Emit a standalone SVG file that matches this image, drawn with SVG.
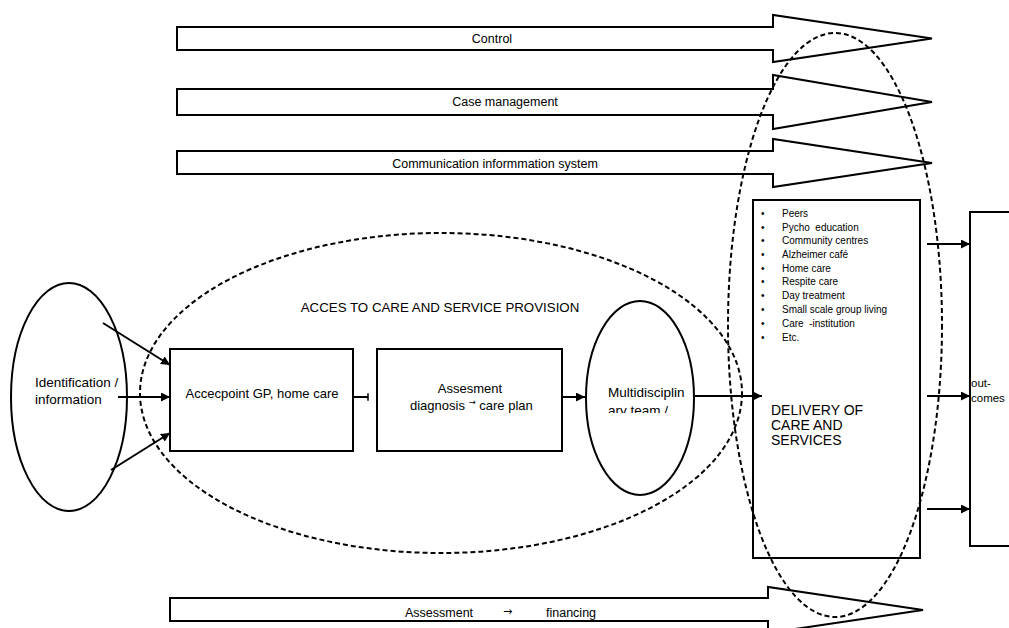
<svg xmlns="http://www.w3.org/2000/svg" width="1009" height="628" viewBox="0 0 1009 628">
<style>
.shape{fill:#fff;stroke:#000;stroke-width:2}
.open{fill:none;stroke:#000;stroke-width:2}
.dash{fill:none;stroke:#000;stroke-width:2;stroke-dasharray:5 3}
.con{fill:none;stroke:#000;stroke-width:2}
text{font-family:"Liberation Sans",Arial,sans-serif;fill:#000}
.lbl{font-size:12.5px;text-anchor:middle}
.mid{font-size:13px}
.li{font-size:10px}
.pre{white-space:pre}
.arr{font-family:"DejaVu Sans",sans-serif}
</style>
<defs>
<marker id="ah" viewBox="0 0 10 10" refX="10" refY="5" markerWidth="9" markerHeight="9" markerUnits="userSpaceOnUse" orient="auto">
<path d="M0,0 L10,5 L0,10 Z" fill="#000"/>
</marker>
<marker id="tick" viewBox="0 0 4 10" refX="2" refY="5" markerWidth="3" markerHeight="9" markerUnits="userSpaceOnUse" orient="auto">
<path d="M2,0 L2,10" stroke="#000" stroke-width="2" fill="none"/>
</marker>
<clipPath id="mclip"><rect x="590" y="300" width="100" height="113"/></clipPath>
</defs>

<g id="arrow-control">
<polygon class="shape" points="177,27 773,27 773,15 932,38.5 773,62 773,50 177,50"/>
<text class="lbl" x="492" y="43">Control</text>
</g>
<g id="arrow-case-management">
<polygon class="shape" points="177,89 773,89 773,75 932,102 773,129 773,115 177,115"/>
<text class="lbl" x="505" y="106">Case management</text>
</g>
<g id="arrow-communication">
<polygon class="shape" points="177,151 773,151 773,139 932,163 773,187 773,174 177,174"/>
<text class="lbl" x="495" y="168">Communication informmation system</text>
</g>
<g id="arrow-assessment-financing">
<polygon class="shape" points="170,598 768,598 768,587 923,610 768,633 768,621 170,621"/>
<text style="font-size:12.5px" x="405" y="617">Assessment</text>
<text class="arr" style="font-size:11px" x="503" y="615">→</text>
<text style="font-size:12.5px" x="546" y="617">financing</text>
</g>

<g id="identification">
<ellipse class="open" cx="69" cy="397" rx="58" ry="114"/>
<text x="35" y="387" style="font-size:13.5px">Identification /</text>
<text x="35" y="404" style="font-size:13.5px">information</text>
</g>

<g id="accespoint">
<rect class="shape" x="170" y="349" width="183" height="102"/>
<text class="mid" x="262" y="398" text-anchor="middle">Accecpoint GP, home care</text>
</g>

<g id="assesment">
<rect class="shape" x="377" y="349" width="185" height="102"/>
<text class="mid" x="470" y="393" text-anchor="middle">Assesment</text>
<text class="mid" x="410" y="410">diagnosis <tspan class="arr" style="font-size:8.5px" dy="-5">→</tspan><tspan dy="5"> care plan</tspan></text>
</g>

<g id="multidisciplinary">
<ellipse class="shape" cx="640" cy="398" rx="54" ry="97"/>
<g clip-path="url(#mclip)">
<text x="608" y="397" style="font-size:13.5px">Multidisciplin</text>
<text x="608" y="415" style="font-size:13.5px">ary team /</text>
</g>
</g>

<g id="delivery">
<rect class="shape" x="753" y="200" width="167" height="358"/>
<g class="li">
<text x="761" y="216.5">•</text><text x="782" y="216.5">Peers</text>
<text x="761" y="230.5">•</text><text class="pre" x="782" y="230.5">Pycho  education</text>
<text x="761" y="244">•</text><text x="782" y="244">Community centres</text>
<text x="761" y="257.5">•</text><text x="782" y="257.5">Alzheimer café</text>
<text x="761" y="271.5">•</text><text x="782" y="271.5">Home care</text>
<text x="761" y="285">•</text><text x="782" y="285">Respite care</text>
<text x="761" y="298.5">•</text><text x="782" y="298.5">Day treatment</text>
<text x="761" y="312.5">•</text><text x="782" y="312.5">Small scale group living</text>
<text x="761" y="326.5">•</text><text class="pre" x="782" y="326.5">Care  -institution</text>
<text x="761" y="340.5">•</text><text x="782" y="340.5">Etc.</text>
</g>
<text x="771" y="415" style="font-size:14px">DELIVERY OF</text>
<text x="771" y="430" style="font-size:14px">CARE AND</text>
<text x="771" y="445" style="font-size:14px">SERVICES</text>
</g>

<g id="outcomes">
<rect class="shape" x="970" y="212" width="60" height="334"/>
<text x="971" y="387" style="font-size:11.5px">out-</text>
<text x="971" y="402" style="font-size:11.5px">comes</text>
</g>

<text id="acces-label" x="440" y="312" text-anchor="middle" style="font-size:13.3px">ACCES TO CARE AND SERVICE PROVISION</text>

<g id="connectors">
<line class="con" x1="103" y1="323" x2="170" y2="365" marker-end="url(#ah)"/>
<line class="con" x1="118" y1="397" x2="170" y2="397" marker-end="url(#ah)"/>
<line class="con" x1="111" y1="470" x2="170" y2="433" marker-end="url(#ah)"/>
<line class="con" x1="353" y1="397" x2="368" y2="397" marker-end="url(#tick)"/>
<line class="con" x1="562" y1="397" x2="585" y2="397" marker-end="url(#ah)"/>
<line class="con" x1="695" y1="396" x2="762" y2="396" marker-end="url(#ah)"/>
<line class="con" x1="927" y1="244" x2="970" y2="244" marker-end="url(#ah)"/>
<line class="con" x1="927" y1="396" x2="970" y2="396" marker-end="url(#ah)"/>
<line class="con" x1="927" y1="509" x2="970" y2="509" marker-end="url(#ah)"/>
</g>

<g id="region-access">
<ellipse class="dash" cx="441" cy="393" rx="301" ry="160"/>
</g>
<g id="region-delivery">
<ellipse class="dash" cx="835" cy="325" rx="107" ry="292"/>
</g>
</svg>
